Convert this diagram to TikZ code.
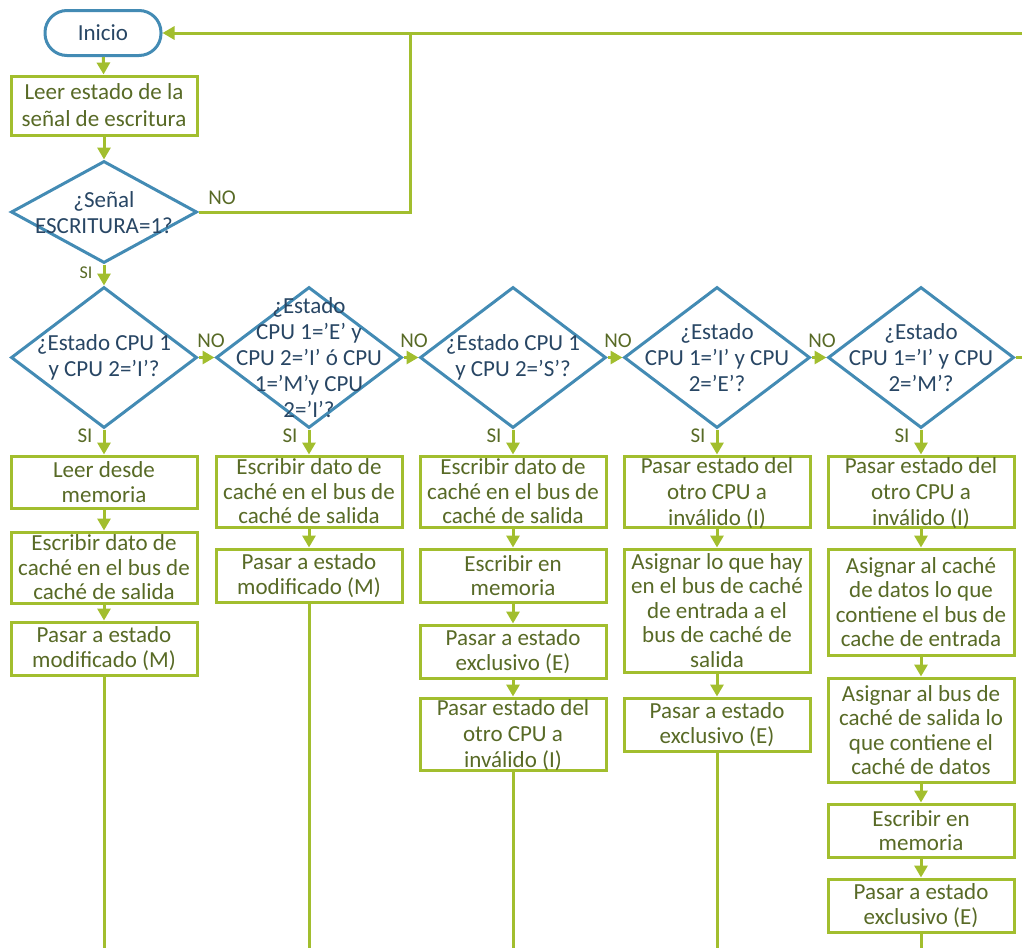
\documentclass[tikz,border=0pt]{standalone}
\usepackage{fontspec}
\setmainfont{Carlito}
\usetikzlibrary{arrows.meta,shapes.geometric}
\definecolor{lg}{RGB}{162,190,46}
\definecolor{bl}{RGB}{67,139,180}
\definecolor{tg}{RGB}{88,106,38}
\definecolor{tb}{RGB}{40,70,100}
\begin{document}
\begin{tikzpicture}[x=1pt,y=-1pt,
 box/.style={draw=lg,line width=3pt,fill=white,minimum width=186pt,inner sep=0pt,align=center,text=tg,font=\fontsize{23}{24.5}\selectfont},
 dia/.style={draw=bl,line width=3pt,diamond,inner sep=0pt,minimum width=186pt,minimum height=141pt},
 dtext/.style={align=center,text=tb,font=\fontsize{23}{26}\selectfont,inner sep=0pt},
 con/.style={draw=lg,line width=3pt},
 arr/.style={con,-{Triangle[width=13pt,length=12pt]}},
 lab/.style={text=tg,font=\fontsize{21}{21}\selectfont,inner sep=0pt},
 inv/.style={font=\fontsize{23}{26}\selectfont,text depth=0pt},
]
\useasboundingbox (0,0) rectangle (1022,948);

% start
\node[draw=bl,line width=3pt,rounded corners=22pt,minimum width=116pt,minimum height=45pt,text=tb,font=\fontsize{23}{26}\selectfont] (ini) at (103,33) {Inicio};
\node[box,minimum height=59pt,font=\fontsize{23}{27}\selectfont] (b0) at (104,105.5) {Leer estado de la\\señal de escritura};
\node[dia,minimum height=102pt] (d0) at (104,212) {};
\node[dtext] (t0) at (104,213) {¿Señal\\ESCRITURA=1?};

% decision row
\node[dia] (d1) at (104,357.5) {};
\node[dia] (d2) at (309,357.5) {};
\node[dia] (d3) at (513,357.5) {};
\node[dia] (d4) at (717,357.5) {};
\node[dia] (d5) at (921,357.5) {};
\node[dtext] (t1) at (104,357.5) {¿Estado CPU 1\\y CPU 2=’I’?};
\node[dtext] (t2) at (309,357.5) {¿Estado\\CPU 1=’E’ y\\CPU 2=’I’ ó CPU\\1=’M’y CPU\\2=’I’?};
\node[dtext] (t3) at (513,357.5) {¿Estado CPU 1\\y CPU 2=’S’?};
\node[dtext] (t4) at (717,357.5) {¿Estado\\CPU 1=’I’ y CPU\\2=’E’?};
\node[dtext] (t5) at (921,357.5) {¿Estado\\CPU 1=’I’ y CPU\\2=’M’?};

% column 1
\node[box,minimum height=52pt] (b11) at (104,482) {Leer desde\\memoria};
\node[box,minimum height=71pt] (b12) at (104,567.5) {Escribir dato de\\caché en el bus de\\caché de salida};
\node[box,minimum height=53pt] (b13) at (104,648.5) {Pasar a estado\\modificado (M)};
% column 2
\node[box,minimum height=71pt] (b21) at (309,491.5) {Escribir dato de\\caché en el bus de\\caché de salida};
\node[box,minimum height=53pt] (b22) at (309,575.5) {Pasar a estado\\modificado (M)};
% column 3
\node[box,minimum height=71pt] (b31) at (513,491.5) {Escribir dato de\\caché en el bus de\\caché de salida};
\node[box,minimum height=53pt] (b32) at (513,575.5) {Escribir en\\memoria};
\node[box,minimum height=53pt] (b33) at (513,651.5) {Pasar a estado\\exclusivo (E)};
\node[box,minimum height=72pt,inv] (b34) at (513,734) {Pasar estado del\\otro CPU a\\inválido (I)};
% column 4
\node[box,minimum height=71pt,inv] (b41) at (717,491.5) {Pasar estado del\\otro CPU a\\inválido (I)};
\node[box,minimum height=123pt] (b42) at (717,610.5) {Asignar lo que hay\\en el bus de caché\\de entrada a el\\bus de caché de\\salida};
\node[box,minimum height=53pt] (b43) at (717,724.5) {Pasar a estado\\exclusivo (E)};
% column 5
\node[box,minimum height=71pt,inv] (b51) at (921,491.5) {Pasar estado del\\otro CPU a\\inválido (I)};
\node[box,minimum height=106pt] (b52) at (921,602) {Asignar al caché\\de datos lo que\\contiene el bus de\\cache de entrada};
\node[box,minimum height=104pt] (b53) at (921,730) {Asignar al bus de\\caché de salida lo\\que contiene el\\caché de datos};
\node[box,minimum height=53pt] (b54) at (921,830.5) {Escribir en\\memoria};
\node[box,minimum height=53pt] (b55) at (921,905.5) {Pasar a estado\\exclusivo (E)};

% helper coordinates
\coordinate (tr) at (1022,33);
\coordinate (jt) at (410,33);
\coordinate (jn) at (410,212);
\coordinate (r5) at (1022,357.5);
\coordinate (e1) at (104,948);
\coordinate (e2) at (309,948);
\coordinate (e3) at (513,948);
\coordinate (e4) at (717,948);
\coordinate (e5) at (921,948);

% connectors
\draw[arr] (ini) -- (b0);
\draw[arr] (b0) -- (d0);
\draw[arr] (d0) -- (d1);
\draw[arr] (tr) -- (ini.east);
\draw[con] (d0.east) -- (jn) -- (jt);
\draw[arr] (d1.east) -- (d2.west);
\draw[arr] (d2.east) -- (d3.west);
\draw[arr] (d3.east) -- (d4.west);
\draw[arr] (d4.east) -- (d5.west);
\draw[con] (d5.east) -- (r5);

\draw[arr] (d1) -- (b11);
\draw[arr] (b11) -- (b12);
\draw[arr] (b12) -- (b13);
\draw[con] (b13) -- (e1);

\draw[arr] (d2) -- (b21);
\draw[arr] (b21) -- (b22);
\draw[con] (b22) -- (e2);

\draw[arr] (d3) -- (b31);
\draw[arr] (b31) -- (b32);
\draw[arr] (b32) -- (b33);
\draw[arr] (b33) -- (b34);
\draw[con] (b34) -- (e3);

\draw[arr] (d4) -- (b41);
\draw[arr] (b41) -- (b42);
\draw[arr] (b42) -- (b43);
\draw[con] (b43) -- (e4);

\draw[arr] (d5) -- (b51);
\draw[arr] (b51) -- (b52);
\draw[arr] (b52) -- (b53);
\draw[arr] (b53) -- (b54);
\draw[arr] (b54) -- (b55);
\draw[con] (b55) -- (e5);

% labels
\node[lab] (no0) at (222,198) {NO};
\node[lab,font=\fontsize{18}{18}\selectfont] (si0) at (86,273) {SI};
\node[lab] (no1) at (211,341) {NO};
\node[lab] (no2) at (414,341) {NO};
\node[lab] (no3) at (618,341) {NO};
\node[lab] (no4) at (822,341) {NO};
\node[lab] (si1) at (85,436) {SI};
\node[lab] (si2) at (290,436) {SI};
\node[lab] (si3) at (494,436) {SI};
\node[lab] (si4) at (698,436) {SI};
\node[lab] (si5) at (902,436) {SI};
\end{tikzpicture}
\end{document}
